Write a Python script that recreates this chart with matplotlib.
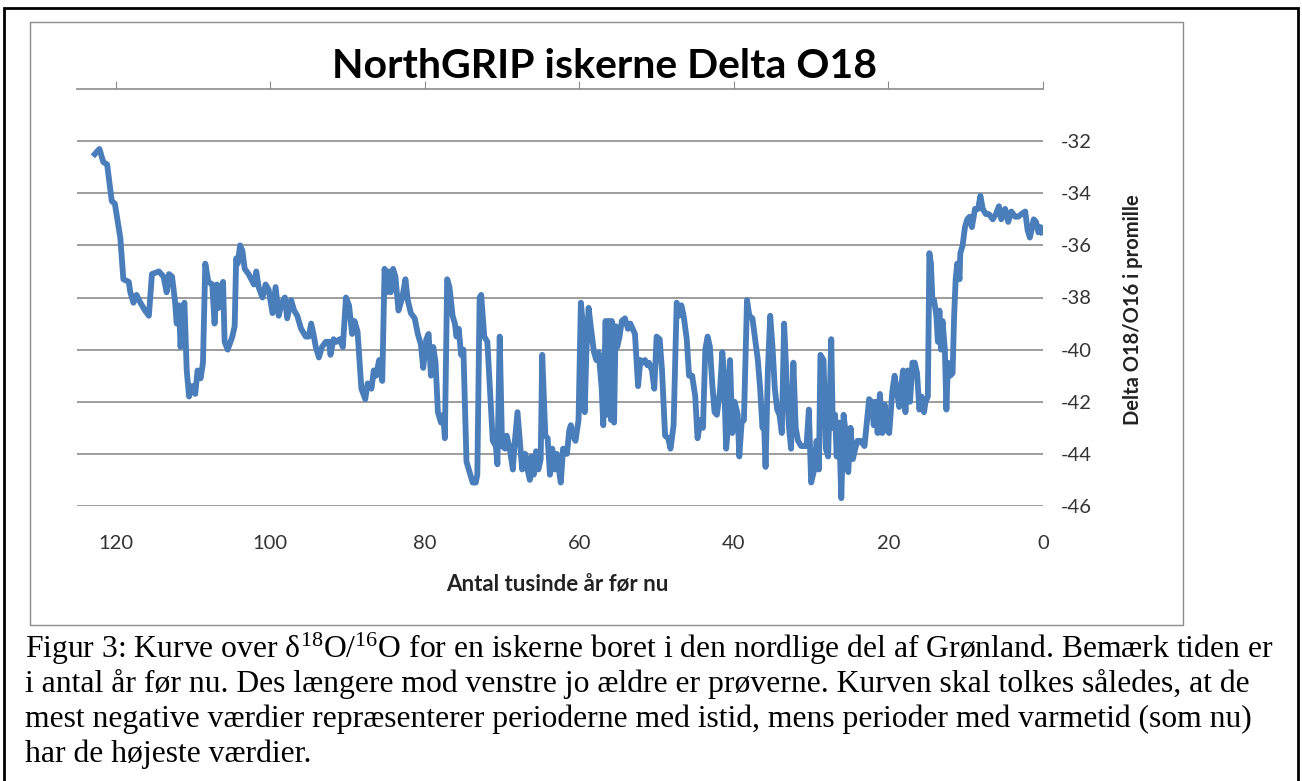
import matplotlib
matplotlib.use("Agg")
import matplotlib.pyplot as plt
from matplotlib.patches import Rectangle

# ages in thousands of years before present
age_kyr = [
    122.7, 122.1, 121.6, 121.1, 120.5, 120.1, 119.4, 119.0, 118.3, 118.1,
    117.7, 117.3, 116.8, 116.2, 115.7, 115.3, 114.4, 113.8, 113.4, 113.1,
    112.7, 112.3, 112.1, 111.8, 111.6, 111.4, 111.1, 110.8, 110.5, 110.1,
    109.7, 109.4, 109.0, 108.7, 108.4, 108.0, 107.5, 107.2, 106.9, 106.7,
    106.3, 106.1, 105.9, 105.5, 104.9, 104.6, 104.4, 104.2, 103.9, 103.6,
    103.3, 102.8, 102.1, 101.8, 101.5, 101.0, 100.6, 100.2, 99.7,
    99.3, 98.9, 98.5, 98.1, 97.8, 97.3, 96.9, 96.5, 96.0, 95.4,
    95.0, 94.7, 94.4, 94.1, 93.7, 93.3, 92.8, 92.4, 92.2, 91.8,
    91.4, 91.0, 90.6, 90.2, 89.8, 89.4, 89.1, 88.7, 88.2, 87.7,
    87.4, 86.9, 86.6, 86.3, 85.9, 85.5, 85.2, 84.9, 84.7, 84.4,
    84.1, 83.8, 83.4, 82.9, 82.5, 82.2, 81.8, 81.3, 80.9, 80.5,
    80.2, 79.8, 79.5, 79.2, 78.9, 78.6, 78.3, 77.9, 77.6, 77.4,
    77.1, 76.8, 76.4, 76.1, 75.9, 75.6, 75.3, 75.0, 74.6, 74.2,
    73.8, 73.4, 73.2, 72.9, 72.7, 72.3, 71.9, 71.6, 71.2, 70.8,
    70.6, 70.3, 70.0, 69.6, 69.4, 69.0, 68.6, 68.4, 68.0, 67.7,
    67.4, 67.0, 66.7, 66.4, 66.2, 65.9, 65.6, 65.3, 65.0, 64.8,
    64.4, 64.1, 63.8, 63.5, 63.2, 62.9, 62.6, 62.4, 62.1, 61.6,
    61.3, 61.1, 60.8, 60.5, 60.1, 59.8, 59.5, 59.3, 59.1, 58.8,
    58.4, 58.1, 57.8, 57.5, 57.1, 56.9, 56.6, 56.4, 56.2, 55.9,
    55.8, 55.5, 55.3, 55.1, 54.8, 54.5, 54.1, 53.7, 53.4, 53.1,
    52.8, 52.4, 52.1, 51.8, 51.5, 51.2, 51.0, 50.6, 50.3, 50.0,
    49.6, 49.3, 48.9, 48.5, 48.2, 47.8, 47.4, 47.1, 46.8, 46.5,
    46.1, 45.8, 45.4, 45.0, 44.7, 44.3, 44.0, 43.7, 43.4, 43.1,
    42.8, 42.5, 42.2, 41.8, 41.5, 41.3, 41.0, 40.7, 40.5, 40.2,
    39.9, 39.5, 39.3, 39.0, 38.7, 38.3, 38.0, 37.6, 37.3, 36.9,
    36.6, 36.3, 36.1, 35.9, 35.6, 35.3, 35.0, 34.7, 34.4, 34.1,
    33.8, 33.5, 33.2, 32.9, 32.6, 32.3, 32.0, 31.7, 31.3, 30.9,
    30.6, 30.3, 30.0, 29.6, 29.3, 29.0, 28.8, 28.4, 28.1, 27.8,
    27.4, 27.2, 26.9, 26.7, 26.4, 26.1, 25.8, 25.5, 25.2, 24.9,
    24.6, 24.3, 24.0, 23.6, 23.1, 22.5, 22.2, 21.9, 21.7, 21.4,
    21.1, 20.8, 20.5, 20.2, 19.9, 19.5, 19.2, 18.9, 18.6, 18.3,
    18.1, 17.8, 17.5, 17.2, 16.9, 16.6, 16.3, 16.0, 15.7, 15.4,
    15.2, 14.9, 14.7, 14.5, 14.3, 14.1, 13.8, 13.6, 13.4, 13.2,
    13.0, 12.7, 12.5, 12.3, 12.0, 11.7, 11.5, 11.3, 11.1, 10.8,
    10.7, 10.4, 10.1, 9.8, 9.5, 9.2, 8.8, 8.4, 8.1, 7.8,
    7.4, 7.0, 6.5, 6.1, 5.7, 5.4, 4.9, 4.5, 4.1, 3.6,
    3.2, 2.8, 2.3, 2.0, 1.7, 1.2, 0.9, 0.6, 0.3, 0.1,
]

# delta O18 in per mille
d18o = [
    -32.5, -32.3, -32.8, -32.9, -34.3, -34.4, -35.7, -37.3, -37.4, -37.8,
    -38.2, -37.9, -38.2, -38.5, -38.7, -37.1, -37.0, -37.2, -37.8, -37.1,
    -37.2, -38.2, -39.0, -38.3, -39.9, -38.7, -38.2, -40.8, -41.8, -41.4,
    -41.7, -40.8, -41.1, -40.5, -36.7, -37.4, -37.5, -39.0, -37.5, -38.4,
    -37.6, -37.4, -39.7, -40.0, -39.5, -39.1, -36.5, -36.7, -36.0, -36.2,
    -36.9, -37.1, -37.5, -37.0, -37.6, -38.0, -37.5, -37.7, -38.6,
    -37.6, -38.7, -38.2, -38.0, -38.8, -38.1, -38.5, -38.7, -39.2, -39.5,
    -39.5, -39.0, -39.4, -39.9, -40.3, -39.9, -39.7, -39.7, -40.2, -39.6,
    -39.7, -39.6, -39.9, -38.0, -38.3, -39.4, -38.9, -39.3, -41.5, -41.9,
    -41.3, -41.5, -40.8, -41.0, -40.4, -41.2, -36.9, -37.8, -37.0, -37.8,
    -36.9, -37.2, -38.5, -38.0, -37.3, -38.1, -38.6, -38.8, -39.4, -39.8,
    -40.7, -39.6, -39.4, -41.0, -39.9, -40.5, -42.4, -42.8, -42.5, -43.4,
    -37.3, -37.6, -38.7, -39.0, -39.5, -39.2, -40.2, -40.0, -44.3, -44.7,
    -45.1, -45.1, -44.8, -38.0, -37.9, -39.5, -39.7, -41.3, -43.5, -43.7,
    -44.4, -39.5, -43.7, -43.8, -43.3, -43.8, -44.6, -43.7, -42.4, -43.5,
    -44.6, -44.0, -44.6, -45.0, -44.1, -44.8, -43.9, -44.6, -44.2, -40.2,
    -43.3, -43.4, -44.8, -43.8, -44.6, -44.0, -44.7, -45.1, -43.8, -44.0,
    -43.1, -42.9, -43.3, -43.5, -42.7, -38.2, -39.2, -42.4, -40.2, -38.4,
    -39.4, -40.1, -40.4, -40.1, -41.5, -42.9, -38.9, -42.5, -38.9, -42.7,
    -38.9, -42.8, -39.1, -39.9, -39.5, -38.9, -38.8, -39.2, -39.0, -39.2,
    -39.4, -41.4, -40.4, -40.5, -40.4, -40.6, -40.5, -40.8, -41.5, -39.5,
    -39.6, -40.8, -43.3, -43.4, -43.8, -42.9, -38.2, -38.7, -38.3, -38.7,
    -39.6, -41.0, -41.0, -41.8, -43.4, -42.7, -43.0, -40.0, -39.5, -39.9,
    -41.3, -42.4, -42.5, -41.6, -40.1, -40.8, -43.8, -42.8, -40.4, -43.2,
    -42.0, -42.5, -44.1, -42.8, -42.7, -38.1, -38.7, -38.8, -39.5, -40.4,
    -41.5, -43.0, -42.8, -44.5, -40.8, -38.7, -39.9, -41.5, -42.3, -42.5,
    -43.2, -39.0, -41.0, -42.9, -43.8, -40.5, -43.0, -43.5, -43.7, -43.7,
    -43.7, -42.3, -45.1, -44.6, -43.5, -44.6, -40.2, -40.4, -43.8, -44.1,
    -39.6, -43.0, -42.5, -44.1, -42.8, -45.7, -42.5, -43.3, -44.7, -43.0,
    -44.2, -43.8, -43.5, -43.5, -43.7, -41.9, -42.0, -42.9, -42.0, -43.2,
    -41.7, -43.2, -42.1, -43.1, -43.2, -41.6, -41.0, -41.6, -42.2, -41.3,
    -40.8, -42.4, -40.8, -42.0, -40.5, -40.5, -40.9, -42.3, -41.8, -42.4,
    -42.0, -41.8, -36.3, -36.7, -38.2, -38.1, -38.7, -39.7, -38.5, -40.0,
    -38.9, -40.0, -42.3, -40.5, -41.0, -40.9, -38.7, -37.3, -36.7, -37.3,
    -36.3, -36.0, -35.3, -35.0, -34.9, -35.3, -34.6, -34.6, -34.1, -34.6,
    -34.8, -34.8, -35.0, -34.8, -34.5, -35.0, -34.6, -35.1, -34.7, -34.9,
    -34.9, -34.8, -34.7, -35.4, -35.7, -35.0, -35.1, -35.5, -35.3, -35.5,
]

x_ticks = [120, 100, 80, 60, 40, 20, 0]
y_ticks = [-46, -44, -42, -40, -38, -36, -34, -32]

title = "NorthGRIP iskerne Delta O18"
x_title = "Antal tusinde år før nu"
y_title = "Delta O18/O16 i promille"
caption = [
    "Figur 3: Kurve over δ$^{18}$O/$^{16}$O for en iskerne boret i den nordlige del af Grønland. Bemærk tiden er",
    "i antal år før nu. Des længere mod venstre jo ældre er prøverne. Kurven skal tolkes således, at de",
    "mest negative værdier repræsenterer perioderne med istid, mens perioder med varmetid (som nu)",
    "har de højeste værdier.",
]

plt.rcParams["axes.unicode_minus"] = False
plt.rcParams["mathtext.fontset"] = "custom"
plt.rcParams["mathtext.rm"] = "Liberation Serif"
plt.rcParams["mathtext.it"] = "Liberation Serif:italic"

W, H = 1302, 781
fig = plt.figure(figsize=(W / 100, H / 100), dpi=100)

# outer frame and chart box
fig.patches.append(Rectangle((4 / W, -0.05), 1294 / W, 1.05 - 8 / H,
                             transform=fig.transFigure, fill=False,
                             ec="black", lw=2))
fig.patches.append(Rectangle((30 / W, 1 - 625 / H), 1153 / W, 603 / H,
                             transform=fig.transFigure, fill=False,
                             ec="#8c8c8c", lw=1))

ax = fig.add_axes([77 / W, 1 - 506 / H, 966 / W, 417 / H])
ax.plot(age_kyr, d18o, color="#4a7ebb", lw=4.2, solid_joinstyle="round",
        zorder=3)

ax.set_xlim(125, 0)
ax.set_ylim(-46, -30)
ax.set_xticks(x_ticks)
ax.set_yticks(y_ticks)

for s in ["left", "right", "bottom"]:
    ax.spines[s].set_visible(False)
ax.spines["top"].set_color("#8c8c8c")
ax.spines["top"].set_linewidth(1.2)

ax.grid(axis="y", color="#8c8c8c", lw=1.2)
ax.yaxis.tick_right()
ax.tick_params(axis="y", length=0, pad=13, labelsize=14.5, labelcolor="#333333")
ax.tick_params(axis="x", top=True, bottom=False, labeltop=False,
               labelbottom=True, length=6, color="#8c8c8c", pad=15,
               labelsize=14.5, labelcolor="#333333")
for lab in ax.get_xticklabels() + ax.get_yticklabels():
    lab.set_family("Lato")

fig.text(604 / W, 1 - 67 / H, title, ha="center", va="center",
         fontsize=29.5, fontweight="bold", family="Lato")
fig.text(557 / W, 1 - 585 / H, x_title, ha="center", va="center",
         fontsize=16, fontweight="bold", family="Lato", color="#222222")
fig.text(1133 / W, 1 - 310 / H, y_title, ha="center", va="center",
         rotation=90, fontsize=14.5, fontweight="bold", family="Lato",
         color="#222222")

for i, line in enumerate(caption):
    fig.text(25 / W, 1 - (649 + 35 * i) / H, line, ha="left", va="center",
             fontsize=22.8, family="Liberation Serif")

fig.savefig("out.png", dpi=100)
